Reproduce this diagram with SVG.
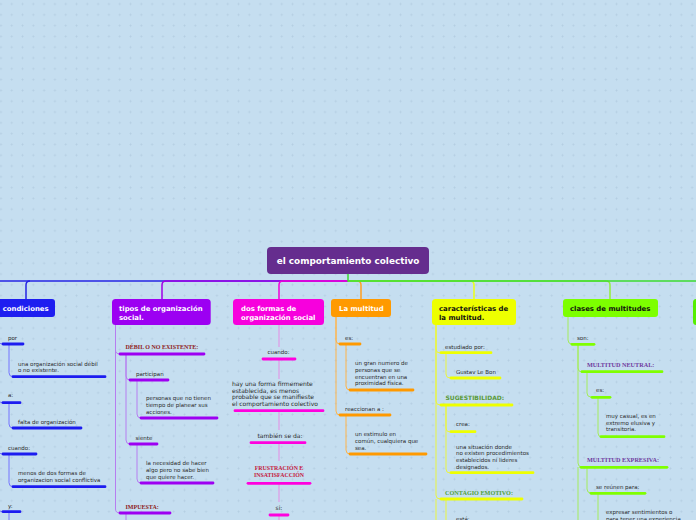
<svg xmlns="http://www.w3.org/2000/svg" width="696" height="520" viewBox="0 0 696 520">
<defs>
<pattern id="grid" x="-4.5" y="-1.4" width="10.8" height="10.8" patternUnits="userSpaceOnUse">
<path d="M4.3 5.4h2.2M5.4 4.3v2.2" stroke="#b5cee3" stroke-width="0.9" fill="none"/>
</pattern>
<style>
.t{font-family:"DejaVu Sans",Verdana,sans-serif;font-size:5.5px;fill:#2a2a2a}
.t6{font-family:"DejaVu Sans",Verdana,sans-serif;font-size:6px;fill:#2a2a2a}
.n{font-family:"DejaVu Sans",Verdana,sans-serif;font-weight:bold;font-size:6.9px;fill:#fff}
.nk{fill:#111}
.r{font-family:"DejaVu Sans",Verdana,sans-serif;font-weight:bold;font-size:8.9px;fill:#fff}
.s{font-family:"Liberation Serif","Times New Roman",serif;font-weight:bold;font-size:6px}
.sb{font-family:"DejaVu Sans",Verdana,sans-serif;font-weight:bold;font-size:6px;fill:#5a9a3a}
.m{fill:none;stroke-width:1.5}
.c{fill:none;stroke-width:1}
.b{fill:none;stroke-width:2.8;stroke-linecap:round}
.cb{stroke:#7474ff}.cp{stroke:#b67ef0}.cm{stroke:#e58ce5}.co{stroke:#ffb44a}.cy{stroke:#eaf540}.cg{stroke:#a4ec5c}
.bb{stroke:#1c1cf0}.bp{stroke:#9d00f2}.bm{stroke:#ff00de}.bo{stroke:#ff9900}.by{stroke:#eeff00}.bg{stroke:#7fff00}
.mid{text-anchor:middle}
</style>
</defs>
<rect width="696" height="520" fill="#c5def0"/>
<rect width="696" height="520" fill="url(#grid)"/>

<g id="connectors">
<path class="m" stroke="#2424e4" d="M348 281H-5"/>
<path class="m" stroke="#2424e4" d="M30 281Q26 281 26 285V299"/>
<path class="m" stroke="#a000e6" d="M348 281H166Q162 281 162 285V299"/>
<path class="m" stroke="#ef00d8" d="M348 281H283Q279 281 279 285V299"/>
<path class="m" stroke="#ffa020" d="M348 281H357Q361 281 361 285V299"/>
<path class="m" stroke="#eaff1a" d="M348 281H470Q474 281 474 285V299"/>
<path class="m" stroke="#92ee3a" d="M348 281H606Q610 281 610 285V299"/>
<path class="m" stroke="#3ddc30" d="M348 274V281H700"/>

<path class="c cb" d="M-2 317V340Q-2 344 2 344M-2 317V398.7Q-2 402.7 2 402.7M-2 317V450Q-2 454 2 454M-2 317V507.7Q-2 511.7 2 511.7"/>
<path class="c cb" d="M9 344V372.7Q9 376.7 13 376.7M9 402.7V424Q9 428 13 428M9 454V482.7Q9 486.7 13 486.7M9 511.7V525"/>

<path class="c cp" d="M115.5 325V350Q115.5 354 120 354M115.5 325V509Q115.5 513 120 513"/>
<path class="c cp" d="M126 354V376Q126 380 130 380M126 354V440Q126 444 130 444M137 380V414Q137 418 141 418M137 444V479Q137 483 141 483M126 513V525"/>

<path class="c cm" d="M279 325V347M279 359V379M279 410.7V430M279 442.7V461M279 483.3V502M279 515V525"/>

<path class="c co" d="M336 317V340Q336 344 340 344M336 317V411Q336 415 340 415M346 344V386Q346 390 350 390M346 415V450Q346 454 350 454"/>

<path class="c cy" stroke-width="1.3" d="M436 325V349Q436 353 440 353M436 325V401Q436 405 440 405M436 325V495Q436 499 440 499M436 499V525"/>
<path class="c cy" d="M446 353V374Q446 378 450 378M446 405V428Q446 432 450 432M446 405V469Q446 473 450 473M446 499V525"/>

<path class="c cg" d="M568 317V340Q568 344 572 344M578 344V368Q578 372 582 372M578 344V463Q578 467 582 467M578 467V525M587 372V393Q587 397 591 397M598 397V433Q598 437 602 437M587 467V489Q587 493 591 493M598 493V525"/>
</g>

<g id="root">
<rect x="267" y="247" width="162" height="27" rx="4" fill="#652d8e"/>
<text class="r mid" x="348" y="264">el comportamiento colectivo</text>
</g>

<g id="n-condiciones">
<rect x="-10" y="299" width="65" height="18" rx="3" fill="#1e1ef0"/>
<text class="n" x="2.7" y="311">condiciones</text>
</g>
<g id="n-por"><path class="b bb" d="M3 344H23"/><text class="t" x="8" y="340">por</text></g>
<g id="n-debil-org"><path class="b bb" d="M13 376.7H105"/><text class="t" x="18" y="365.5">una organización social débil</text><text class="t" x="18" y="372">o no existente.</text></g>
<g id="n-a"><path class="b bb" d="M3 402.7H20"/><text class="t" x="8" y="397">a:</text></g>
<g id="n-falta"><path class="b bb" d="M13 428H81"/><text class="t" x="18" y="423.5">falta de organización</text></g>
<g id="n-cuando1"><path class="b bb" d="M3 454H36"/><text class="t" x="8" y="449.5">cuando:</text></g>
<g id="n-menos"><path class="b bb" d="M13 486.7H105"/><text class="t" x="18" y="475">menos de dos formas de</text><text class="t" x="18" y="481.5">organizacion social conflictiva</text></g>
<g id="n-y"><path class="b bb" d="M3 511.7H20"/><text class="t" x="8" y="508">y:</text></g>

<g id="n-tipos">
<rect x="112" y="299" width="98.7" height="26" rx="3.5" fill="#9c00f2"/>
<text class="n" x="119" y="311">tipos de organización</text>
<text class="n" x="119" y="319.5">social.</text>
</g>
<g id="n-debil"><path class="b bp" d="M120 354H204"/><text class="s" fill="#8e1b1b" x="125.5" y="349">DÉBIL O NO EXISTENTE:</text></g>
<g id="n-participan"><path class="b bp" d="M130 380H168"/><text class="t" x="136" y="375.5">participan</text></g>
<g id="n-personas"><path class="b bp" d="M141 418H217"/><text class="t" x="146" y="400.3">personas que no tienen</text><text class="t" x="146" y="407">tiempo de planear sus</text><text class="t" x="146" y="413.7">acciones.</text></g>
<g id="n-siente"><path class="b bp" d="M130 444H157"/><text class="t" x="135.5" y="439.5">siente</text></g>
<g id="n-necesidad"><path class="b bp" d="M141 483H213"/><text class="t" x="146" y="465.3">la necesidad de hacer</text><text class="t" x="146" y="472">algo pero no sabe bien</text><text class="t" x="146" y="478.7">que quiere hacer.</text></g>
<g id="n-impuesta"><path class="b bp" d="M120 513H170"/><text class="s" fill="#8e1b1b" x="125.5" y="509">IMPUESTA:</text></g>

<g id="n-dosformas">
<rect x="233" y="299" width="91" height="26" rx="3.5" fill="#f700dd"/>
<text class="n" x="241" y="311">dos formas de</text>
<text class="n" x="241" y="319.5">organización social</text>
</g>
<g id="n-cuando2"><path class="b bm" d="M263 359H295"/><text class="t mid" x="278.5" y="354.3">cuando:</text></g>
<g id="n-hayuna"><path class="b bm" d="M235 410.7H323"/><text class="t6" x="232" y="386">hay una forma firmemente</text><text class="t6" x="232" y="392.7">establecida, es menos</text><text class="t6" x="232" y="399.3">probable que se manifieste</text><text class="t6" x="232" y="406">el comportamiento colectivo</text></g>
<g id="n-tambien"><path class="b bm" d="M251 442.7H305"/><text class="t6 mid" x="280" y="438">también se da:</text></g>
<g id="n-frustracion"><path class="b bm" d="M248 483.3H310"/><text class="s mid" fill="#c4183c" style="font-size:5.9px" x="279" y="470.2">FRUSTRACIÓN E</text><text class="s mid" fill="#c4183c" style="font-size:5.9px" x="279" y="477.4">INSATISFACCIÓN</text></g>
<g id="n-si"><path class="b bm" d="M270 515H288"/><text class="t6 mid" x="279" y="510">si:</text></g>

<g id="n-multitud">
<rect x="331" y="299" width="60" height="18" rx="3" fill="#ff9a00"/>
<text class="n" x="339" y="311">La multitud</text>
</g>
<g id="n-es1"><path class="b bo" d="M340 344H360"/><text class="t" x="345" y="340">es:</text></g>
<g id="n-grannumero"><path class="b bo" d="M350 390H413"/><text class="t" x="355" y="365.3">un gran numero de</text><text class="t" x="355" y="372">personas que se</text><text class="t" x="355" y="378.7">encuentran en una</text><text class="t" x="355" y="385.3">proximidad física.</text></g>
<g id="n-reaccionan"><path class="b bo" d="M340 415H390"/><text class="t" x="345" y="410.5">reaccionan a :</text></g>
<g id="n-estimulo"><path class="b bo" d="M350 454H426"/><text class="t" x="355" y="436.3">un estimulo en</text><text class="t" x="355" y="443.3">común, cualquiera que</text><text class="t" x="355" y="449.8">sea.</text></g>

<g id="n-caracteristicas">
<rect x="432" y="299" width="84" height="26" rx="3.5" fill="#eeff00"/>
<text class="n nk" x="439" y="311">características de</text>
<text class="n nk" x="439" y="319.5">la multitud.</text>
</g>
<g id="n-estudiado"><path class="b by" d="M441 352.7H491"/><text class="t" x="445" y="348.7">estudiado por:</text></g>
<g id="n-gustav"><path class="b by" d="M451 378H500"/><text class="t" x="456" y="374">Gustav Le Bon</text></g>
<g id="n-sugestibilidad"><path class="b by" d="M441 405H512"/><text class="sb" x="445.5" y="399.5">SUGESTIBILIDAD:</text></g>
<g id="n-crea"><path class="b by" d="M451 431.7H475"/><text class="t" x="456" y="426">crea:</text></g>
<g id="n-situacion"><path class="b by" d="M451 472.7H533"/><text class="t" x="456" y="448.7">una situación donde</text><text class="t" x="456" y="455.3">no existen procedimientos</text><text class="t" x="456" y="462">establecidos ni lideres</text><text class="t" x="456" y="468.7">designados.</text></g>
<g id="n-contagio"><path class="b by" d="M441 499H522"/><text class="s" fill="#4f9e3a" style="font-size:6.2px" x="445" y="494.5">CONTAGIO EMOTIVO:</text></g>
<g id="n-esta"><text class="t" x="456" y="520.5">está:</text></g>

<g id="n-clases">
<rect x="563" y="299" width="95" height="18" rx="3" fill="#7dff00"/>
<text class="n nk" x="570" y="311">clases de multitudes</text>
</g>
<g id="n-son"><path class="b bg" d="M572 344.3H594"/><text class="t" x="577" y="340">son:</text></g>
<g id="n-neutral"><path class="b bg" d="M582 371.7H662"/><text class="s" fill="#6f3a9e" style="font-size:6.2px" x="587" y="367.3">MULTITUD NEUTRAL:</text></g>
<g id="n-es2"><path class="b bg" d="M592 397.3H610"/><text class="t" x="596" y="392">es:</text></g>
<g id="n-casual"><path class="b bg" d="M601 436.7H664"/><text class="t" x="606" y="418">muy casual, es en</text><text class="t" x="606" y="424.7">extremo elusiva y</text><text class="t" x="606" y="431.3">transitoria.</text></g>
<g id="n-expresiva"><path class="b bg" d="M581 467.3H667"/><text class="s" fill="#6f3a9e" style="font-size:6.2px" x="587" y="461.5">MULTITUD EXPRESIVA:</text></g>
<g id="n-sereunen"><path class="b bg" d="M591 493.3H645"/><text class="t" x="596" y="488.7">se reúnen para:</text></g>
<g id="n-expresar"><text class="t" x="606" y="514.3">expresar sentimientos o</text><text class="t" x="606" y="520.5">para tener una experiencia</text></g>

<g id="n-right">
<rect x="693" y="299" width="20" height="26" rx="3.5" fill="#55ee00"/>
</g>
</svg>
